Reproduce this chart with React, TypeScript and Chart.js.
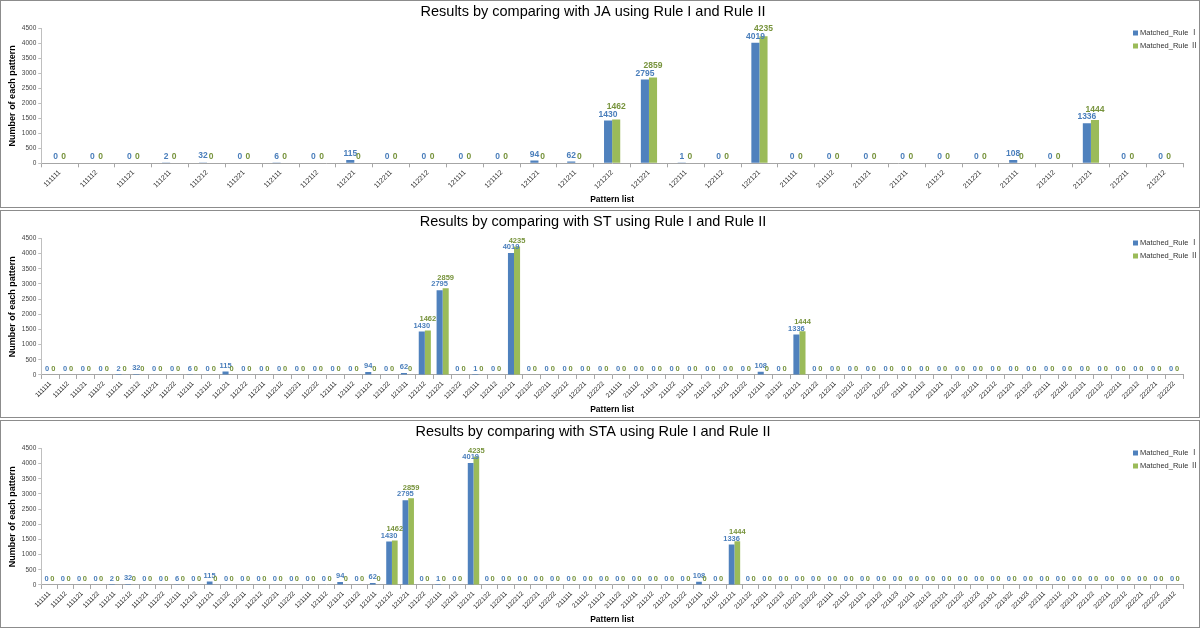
import React, { useEffect, useRef } from 'react';
import { Chart, registerables } from 'chart.js';

Chart.register(...registerables);

const FONT = "'Liberation Sans', Arial, 'Noto Sans CJK SC', sans-serif";
const BLUE = '#4F81BD';
const GREEN = '#9BBB59';
const BLUE_TXT = '#4A7EBB';
const GREEN_TXT = '#77933C';

const seriesNames = ['Matched_Rule Ⅰ', 'Matched_Rule Ⅱ'];
const yTicks = [0, 500, 1000, 1500, 2000, 2500, 3000, 3500, 4000, 4500];

// Panel 1: JA
const jaPatterns = [
  '111111', '111112', '111121', '111211', '111212', '111221', '112111', '112112',
  '112121', '112211', '112212', '121111', '121112', '121121', '121211', '121212',
  '121221', '122111', '122112', '122121', '211111', '211112', '211121', '211211',
  '211212', '211221', '212111', '212112', '212121', '212211', '212212',
];
const jaRule1 = [
  0, 0, 0, 2, 32, 0, 6, 0,
  115, 0, 0, 0, 0, 94, 62, 1430,
  2795, 1, 0, 4019, 0, 0, 0, 0,
  0, 0, 108, 0, 1336, 0, 0,
];
const jaRule2 = [
  0, 0, 0, 0, 0, 0, 0, 0,
  0, 0, 0, 0, 0, 0, 0, 1462,
  2859, 0, 0, 4235, 0, 0, 0, 0,
  0, 0, 0, 0, 1444, 0, 0,
];

// Panel 2: ST
const stPatterns = [
  '111111', '111112', '111121', '111122', '111211', '111212', '111221', '111222',
  '112111', '112112', '112121', '112122', '112211', '112212', '112221', '112222',
  '121111', '121112', '121121', '121122', '121211', '121212', '121221', '121222',
  '122111', '122112', '122121', '122122', '122211', '122212', '122221', '122222',
  '211111', '211112', '211121', '211122', '211211', '211212', '211221', '211222',
  '212111', '212112', '212121', '212122', '212211', '212212', '212221', '212222',
  '221111', '221112', '221121', '221122', '221211', '221212', '221221', '221222',
  '222111', '222112', '222121', '222122', '222211', '222212', '222221', '222222',
];
const stRule1 = [
  0, 0, 0, 0, 2, 32, 0, 0,
  6, 0, 115, 0, 0, 0, 0, 0,
  0, 0, 94, 0, 62, 1430, 2795, 0,
  1, 0, 4019, 0, 0, 0, 0, 0,
  0, 0, 0, 0, 0, 0, 0, 0,
  108, 0, 1336, 0, 0, 0, 0, 0,
  0, 0, 0, 0, 0, 0, 0, 0,
  0, 0, 0, 0, 0, 0, 0, 0,
];
const stRule2 = [
  0, 0, 0, 0, 0, 0, 0, 0,
  0, 0, 0, 0, 0, 0, 0, 0,
  0, 0, 0, 0, 0, 1462, 2859, 0,
  0, 0, 4235, 0, 0, 0, 0, 0,
  0, 0, 0, 0, 0, 0, 0, 0,
  0, 0, 1444, 0, 0, 0, 0, 0,
  0, 0, 0, 0, 0, 0, 0, 0,
  0, 0, 0, 0, 0, 0, 0, 0,
];

// Panel 3: STA
const staPatterns = [
  '111111', '111112', '111121', '111122', '111211', '111212', '111221', '111222',
  '112111', '112112', '112121', '112122', '112211', '112212', '112221', '112222',
  '121111', '121112', '121121', '121122', '121211', '121212', '121221', '121222',
  '122111', '122112', '122121', '122122', '122211', '122212', '122221', '122222',
  '211111', '211112', '211121', '211122', '211211', '211212', '211221', '211222',
  '212111', '212112', '212121', '212122', '212211', '212212', '212221', '212222',
  '221111', '221112', '221121', '221122', '221123', '221211', '221212', '221221',
  '221222', '221223', '221321', '221322', '221323', '222111', '222112', '222121',
  '222122', '222211', '222212', '222221', '222222', '222312',
];
const staRule1 = [
  0, 0, 0, 0, 2, 32, 0, 0,
  6, 0, 115, 0, 0, 0, 0, 0,
  0, 0, 94, 0, 62, 1430, 2795, 0,
  1, 0, 4019, 0, 0, 0, 0, 0,
  0, 0, 0, 0, 0, 0, 0, 0,
  108, 0, 1336, 0, 0, 0, 0, 0,
  0, 0, 0, 0, 0, 0, 0, 0,
  0, 0, 0, 0, 0, 0, 0, 0,
  0, 0, 0, 0, 0, 0,
];
const staRule2 = [
  0, 0, 0, 0, 0, 0, 0, 0,
  0, 0, 0, 0, 0, 0, 0, 0,
  0, 0, 0, 0, 0, 1462, 2859, 0,
  0, 0, 4235, 0, 0, 0, 0, 0,
  0, 0, 0, 0, 0, 0, 0, 0,
  0, 0, 1444, 0, 0, 0, 0, 0,
  0, 0, 0, 0, 0, 0, 0, 0,
  0, 0, 0, 0, 0, 0, 0, 0,
  0, 0, 0, 0, 0, 0,
];

const valueLabelPlugin = {
  id: 'valueLabels',
  afterDatasetsDraw(chart: any, _args: any, opts: any) {
    const ctx = chart.ctx;
    const fs = opts.fontSize || 8;
    const m0 = chart.getDatasetMeta(0);
    const m1 = chart.getDatasetMeta(1);
    const d0 = chart.data.datasets[0].data as number[];
    const d1 = chart.data.datasets[1].data as number[];
    ctx.save();
    ctx.font = `bold ${fs}px ${FONT}`;
    ctx.textAlign = 'center';
    ctx.textBaseline = 'bottom';
    for (let i = 0; i < d0.length; i++) {
      const b0 = m0.data[i];
      const b1 = m1.data[i];
      const y0 = b0.y - 2;
      let y1 = b1.y - 2;
      if (d0[i] > 0 && d1[i] > 0) {
        const lim = y0 - fs + 1;
        if (y1 > lim) y1 = lim;
      }
      ctx.fillStyle = BLUE_TXT;
      ctx.fillText(String(d0[i]), b0.x, y0);
      ctx.fillStyle = GREEN_TXT;
      ctx.fillText(String(d1[i]), b1.x, y1);
    }
    ctx.restore();
  },
};

const cornerLegendPlugin = {
  id: 'cornerLegend',
  afterDraw(chart: any) {
    const ctx = chart.ctx;
    const x = chart.width - 66;
    const ys = [32, 45];
    ctx.save();
    ctx.font = `7.5px ${FONT}`;
    ctx.textBaseline = 'middle';
    ctx.textAlign = 'left';
    chart.data.datasets.forEach((ds: any, i: number) => {
      ctx.fillStyle = ds.backgroundColor;
      ctx.fillRect(x, ys[i] - 2.5, 5, 5);
      ctx.fillStyle = '#333';
      ctx.fillText(ds.label, x + 7, ys[i]);
    });
    ctx.restore();
  },
};

type PanelProps = {
  title: string;
  labels: string[];
  rule1: number[];
  rule2: number[];
  catPct: number;
  valueFont: number;
  tickFont: number;
};

function Panel({ title, labels, rule1, rule2, catPct, valueFont, tickFont }: PanelProps) {
  const ref = useRef<HTMLCanvasElement>(null);
  useEffect(() => {
    const chart = new Chart(ref.current as HTMLCanvasElement, {
      type: 'bar',
      data: {
        labels,
        datasets: [
          { label: seriesNames[0], data: rule1, backgroundColor: BLUE, categoryPercentage: catPct, barPercentage: 1 },
          { label: seriesNames[1], data: rule2, backgroundColor: GREEN, categoryPercentage: catPct, barPercentage: 1 },
        ],
      },
      options: {
        responsive: false,
        animation: false,
        devicePixelRatio: 1,
        layout: { padding: { left: 2, right: 16, top: 0, bottom: 0 } },
        plugins: {
          legend: { display: false },
          tooltip: { enabled: false },
          title: {
            display: true,
            text: title,
            color: '#000',
            font: { family: FONT, size: 14.5, weight: 'normal' },
            padding: { top: 2, bottom: 8 },
          },
          valueLabels: { fontSize: valueFont },
        } as any,
        scales: {
          x: {
            grid: { display: true, drawOnChartArea: false, drawTicks: true, tickLength: 4, color: '#a6a6a6', offset: true },
            border: { display: true, color: '#a6a6a6' },
            ticks: {
              autoSkip: false,
              maxRotation: 45,
              minRotation: 45,
              padding: 1,
              color: '#222',
              font: { family: FONT, size: tickFont },
            },
            title: {
              display: true,
              text: 'Pattern list',
              color: '#000',
              font: { family: FONT, size: 8.5, weight: 'bold' },
              padding: { top: 3, bottom: 2 },
            },
          },
          y: {
            min: 0,
            max: 4500,
            afterBuildTicks: (axis: any) => {
              axis.ticks = yTicks.map((v) => ({ value: v }));
            },
            grid: { display: true, drawOnChartArea: false, drawTicks: true, tickLength: 3, color: '#bfbfbf' },
            border: { display: true, color: '#bfbfbf' },
            ticks: {
              padding: 2,
              color: '#444',
              font: { family: FONT, size: 6.5 },
              callback: (v: any) => String(v),
            },
            title: {
              display: true,
              text: 'Number of each pattern',
              color: '#000',
              font: { family: FONT, size: 9, weight: 'bold' },
              padding: { top: 4, bottom: 2 },
            },
          },
        },
      },
      plugins: [valueLabelPlugin, cornerLegendPlugin],
    } as any);
    return () => chart.destroy();
  }, []);
  return <canvas ref={ref} width={1198} height={206} style={{ display: 'block' }} />;
}

const panelStyle = (last: boolean): React.CSSProperties => ({
  width: 1198,
  height: 206,
  border: '1px solid #8c8c8c',
  marginBottom: last ? 0 : 2,
  background: '#fff',
});

export default function App() {
  useEffect(() => {
    document.body.style.margin = '0';
    document.body.style.background = '#fff';
  }, []);
  return (
    <div style={{ width: 1200, height: 628, background: '#fff', overflow: 'hidden' }}>
      <div style={panelStyle(false)}>
        <Panel title="Results by comparing with JA using Rule I and Rule II" labels={jaPatterns} rule1={jaRule1} rule2={jaRule2} catPct={0.44} valueFont={8.5} tickFont={7} />
      </div>
      <div style={panelStyle(false)}>
        <Panel title="Results by comparing with ST using Rule I and Rule II" labels={stPatterns} rule1={stRule1} rule2={stRule2} catPct={0.68} valueFont={7.5} tickFont={6.5} />
      </div>
      <div style={panelStyle(true)}>
        <Panel title="Results by comparing with STA using Rule I and Rule II" labels={staPatterns} rule1={staRule1} rule2={staRule2} catPct={0.7} valueFont={7.5} tickFont={6.5} />
      </div>
    </div>
  );
}
